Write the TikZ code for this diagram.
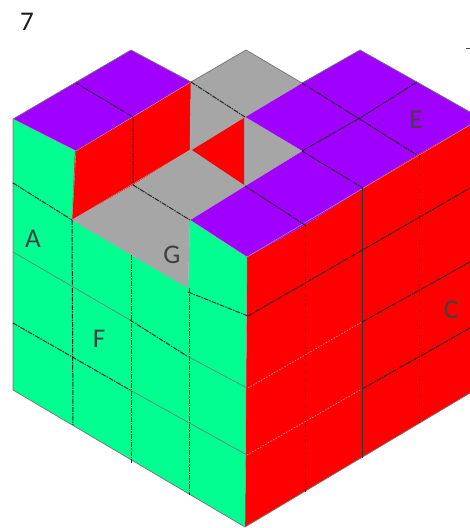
\documentclass[tikz,border=0pt]{standalone}
\usepackage{fontspec}
\setmainfont{Carlito}
\definecolor{cgreen}{HTML}{00FF90}
\definecolor{cpurple}{HTML}{A000FF}
\definecolor{cred}{HTML}{FF0000}
\definecolor{cgray}{HTML}{A6A6A6}
\tikzset{
  face/.style={line width=0.7pt,draw=black!55},
  inner/.style={line width=0.4pt,draw=black!35},
  grid/.style={line width=1pt,draw=black!85,dash pattern=on 5pt off 1pt on 1.5pt off 1pt},
  thingrid/.style={line width=0.6pt,draw=black!55},
  solidgrid/.style={line width=0.9pt,draw=black!80},
  faint/.style={line width=0.6pt,draw=black!30,dash pattern=on 1.5pt off 1.5pt},
  lab/.style={font=\fontsize{27}{27}\selectfont,text=black!75,inner sep=0pt}
}
\begin{document}
\begin{tikzpicture}[x=1pt,y=-1pt]
\useasboundingbox (0,0) rectangle (470,528);
% faces
\fill[cgreen] (13,119)--(76,151)--(72,220)--(188,288)--(190,220)--(247,257)--(245,527)--(13,390)--cycle;
\fill[cred] (247,257)--(305,225)--(363,188)--(417,155)--(470,125)--(470,393)--(245,527)--cycle;
\fill[cpurple] (13,119)--(131,50)--(191,82)--(76,151)--cycle;
\fill[cred] (75,151)--(133,117)--(191,82)--(190,150)--(133,185)--(72,220)--cycle;
\fill[cgray] (191,82)--(246,50)--(302,83)--(245,117)--(302,151)--(245,186)--(190,220)--(188,288)--(72,220)--(133,185)--(190,150)--cycle;
\fill[cred] (192,150)--(244,118)--(244,185)--cycle;
\fill[cpurple] (302,83)--(360,50)--(417,82)--(470,112)--(470,125)--(417,155)--(363,188)--(305,225)--(247,257)--(190,220)--(245,186)--(302,151)--(245,117)--cycle;
% outlines
\draw[face] (13,119)--(131,50)--(191,82)--(246,50)--(302,83)--(360,50)--(417,82)--(470,112);
\draw[face] (13,119)--(13,390)--(245,527)--(470,393);
\draw[inner] (13,119)--(76,151)--(72,220)--(188,288)--(190,220)--(247,257)--(245,527);
\draw[inner] (247,257)--(470,125);
\draw[inner] (76,151)--(191,82)--(190,150)--(72,220);
\draw[inner] (245,117)--(245,186)--(190,150);
\draw[inner] (245,117)--(302,83);
\draw[inner] (245,117)--(302,151)--(245,186)--(190,220);
% top grid
\draw[grid] (76,83)--(133,117)--(133,185);
\draw[grid] (191,82)--(245,117);
\draw[grid] (133,185)--(190,220);
\draw[grid] (302,83)--(417,155);
\draw[grid] (302,151)--(360,118)--(417,82);
\draw[grid] (302,151)--(363,188);
\draw[grid] (245,186)--(305,225);
% green grid
\draw[grid] (13,183)--(72,220);
\draw[grid] (72,220)--(73,425);
\draw[grid] (131,255)--(131,463);
\draw[grid] (189,288)--(189,495);
\draw[grid] (188,292)--(248,316);
\draw[thingrid] (13,252)--(130,320);
\draw[grid] (130,320)--(187,356);
\draw[thingrid] (187,356)--(247,388);
\draw[grid] (13,323)--(130,390);
\draw[thingrid] (130,390)--(247,455);
% red grid
\draw[grid] (305,225)--(305,492);
\draw[solidgrid] (362,188)--(362,458);
\draw[grid] (419,155)--(419,423);
\draw[grid] (248,316)--(470,188);
\draw[faint] (248,388)--(362,322);
\draw[grid] (362,322)--(470,262);
\draw[faint] (247,455)--(362,389);
\draw[grid] (362,389)--(470,328);
% stray mark
\draw[line width=0.8pt,draw=black!70] (466,48)--(470,48);
% labels
\node[lab,text=black!90] (seven) at (27,22) {7};
\node[lab] (a) at (33,239) {A};
\node[lab] (g) at (172,255) {G};
\node[lab] (f) at (99,339) {F};
\node[lab] (e) at (416,120) {E};
\node[lab] (c) at (451,310) {C};
\end{tikzpicture}
\end{document}
